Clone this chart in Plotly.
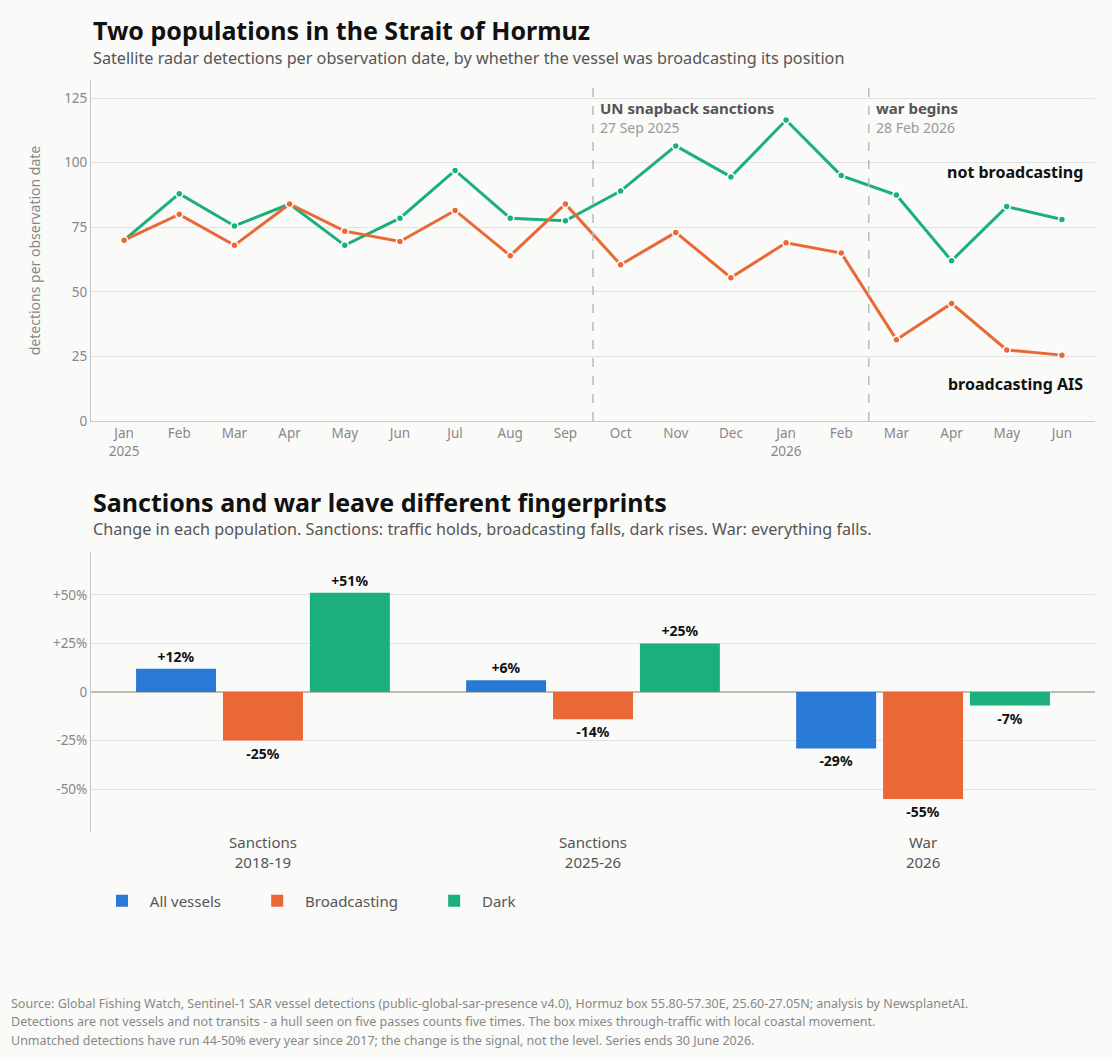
import plotly.graph_objects as go

W, H = 1112, 1060
FONT = "Noto Sans"
BG = "#FAFAF8"
NB = "\u00a0"

# ---- data: top chart ----
months = ["Jan<br>2025", "Feb", "Mar", "Apr", "May", "Jun", "Jul", "Aug", "Sep",
          "Oct", "Nov", "Dec", "Jan<br>2026", "Feb", "Mar", "Apr", "May", "Jun"]
not_broadcasting = [70, 88, 75.5, 84, 68, 78.5, 97, 78.5, 77.5,
                    89, 106.5, 94.5, 116.5, 95, 87.5, 62, 83, 78]
broadcasting = [70, 80, 68, 84, 73.5, 69.5, 81.5, 64, 84,
                60.5, 73, 55.5, 69, 65, 31.5, 45.5, 27.5, 25.5]
event_pos = [8.5, 13.5]
event_names = ["UN snapback sanctions", "war begins"]
event_dates = ["27 Sep 2025", "28 Feb 2026"]

# ---- data: bottom chart ----
periods = ["Sanctions<br>2018-19", "Sanctions<br>2025-26", "War<br>2026"]
all_vessels = [12, 6, -29]
broadcasting_chg = [-25, -14, -55]
dark_chg = [51, 25, -7]

footer_lines = [
    "Source: Global Fishing Watch, Sentinel-1 SAR vessel detections (public-global-sar-presence v4.0), Hormuz box 55.80-57.30E, 25.60-27.05N; analysis by NewsplanetAI.",
    "Detections are not vessels and not transits - a hull seen on five passes counts five times. The box mixes through-traffic with local coastal movement.",
    "Unmatched detections have run 44-50% every year since 2017; the change is the signal, not the level. Series ends 30 June 2026.",
]

C_BLUE = "#2979D6"
C_ORANGE = "#EA6835"
C_GREEN = "#1BAF7B"


def px_x(p):
    return p / W


def px_y(p):
    return 1 - p / H


fig = go.Figure()
xi = list(range(len(months)))

fig.add_trace(go.Scatter(
    x=xi, y=not_broadcasting, mode="lines+markers", xaxis="x", yaxis="y",
    line=dict(color=C_GREEN, width=3),
    marker=dict(size=7, color=C_GREEN, line=dict(color="white", width=1.5)),
    showlegend=False, hoverinfo="skip"))
fig.add_trace(go.Scatter(
    x=xi, y=broadcasting, mode="lines+markers", xaxis="x", yaxis="y",
    line=dict(color=C_ORANGE, width=3),
    marker=dict(size=7, color=C_ORANGE, line=dict(color="white", width=1.5)),
    showlegend=False, hoverinfo="skip"))

legend_names = [NB * 2 + "All vessels" + NB * 8,
                NB * 2 + "Broadcasting" + NB * 8,
                NB * 2 + "Dark"]
for name, vals, col in [(legend_names[0], all_vessels, C_BLUE),
                        (legend_names[1], broadcasting_chg, C_ORANGE),
                        (legend_names[2], dark_chg, C_GREEN)]:
    fig.add_trace(go.Bar(
        x=periods, y=vals, name=name, xaxis="x2", yaxis="y2",
        marker=dict(color=col, line=dict(width=0)),
        text=[f"<b>{v:+d}%</b>" for v in vals], textposition="outside",
        textfont=dict(family=FONT, size=14, color="#111"),
        cliponaxis=False, hoverinfo="skip"))

shapes = []
for xp in event_pos:
    shapes.append(dict(type="line", xref="x", yref="y domain", x0=xp, x1=xp, y0=0, y1=1,
                       line=dict(color="#BBBBBB", width=1.5, dash="dash")))

annotations = [
    dict(text="<b>Two populations in the Strait of Hormuz</b>", x=px_x(91), y=px_y(30),
         xref="paper", yref="paper", xanchor="left", yanchor="middle", showarrow=False,
         font=dict(family=FONT, size=25, color="#111")),
    dict(text="Satellite radar detections per observation date, by whether the vessel was broadcasting its position",
         x=px_x(91), y=px_y(58), xref="paper", yref="paper", xanchor="left", yanchor="middle",
         showarrow=False, font=dict(family=FONT, size=16.2, color="#555")),
    dict(text="<b>Sanctions and war leave different fingerprints</b>", x=px_x(91), y=px_y(502),
         xref="paper", yref="paper", xanchor="left", yanchor="middle", showarrow=False,
         font=dict(family=FONT, size=25, color="#111")),
    dict(text="Change in each population. Sanctions: traffic holds, broadcasting falls, dark rises. War: everything falls.",
         x=px_x(91), y=px_y(529), xref="paper", yref="paper", xanchor="left", yanchor="middle",
         showarrow=False, font=dict(family=FONT, size=16.2, color="#555")),
    dict(text="<b>not broadcasting</b>", x=px_x(1085), y=px_y(172), xref="paper", yref="paper",
         xanchor="right", yanchor="middle", showarrow=False,
         font=dict(family=FONT, size=16, color="#111")),
    dict(text="<b>broadcasting AIS</b>", x=px_x(1085), y=px_y(384), xref="paper", yref="paper",
         xanchor="right", yanchor="middle", showarrow=False,
         font=dict(family=FONT, size=16, color="#111")),
]
for i, line in enumerate(footer_lines):
    annotations.append(dict(text=line, x=px_x(9), y=px_y(1003 + 18.5 * i), xref="paper", yref="paper",
                            xanchor="left", yanchor="middle", showarrow=False,
                            font=dict(family=FONT, size=12.5, color="#888")))
for xp, nm, dt in zip(event_pos, event_names, event_dates):
    annotations.append(dict(text=f"<b>{nm}</b>", x=xp, y=px_y(108), xref="x", yref="paper",
                            xanchor="left", yanchor="middle", xshift=5, showarrow=False,
                            font=dict(family=FONT, size=15, color="#555")))
    annotations.append(dict(text=dt, x=xp, y=px_y(127.5), xref="x", yref="paper",
                            xanchor="left", yanchor="middle", xshift=5, showarrow=False,
                            font=dict(family=FONT, size=14, color="#999")))

fig.update_layout(
    width=W, height=H, margin=dict(l=0, r=0, t=0, b=0, autoexpand=False),
    paper_bgcolor=BG, plot_bgcolor=BG,
    font=dict(family=FONT, color="#555"),
    barmode="group", bargap=0.21, bargroupgap=0.08,
    showlegend=True,
    legend=dict(orientation="h", x=px_x(102), y=px_y(901), xanchor="left", yanchor="middle",
                font=dict(family=FONT, size=15, color="#555"), bgcolor="rgba(0,0,0,0)",
                itemwidth=30),
    xaxis=dict(domain=[px_x(91), px_x(1095)], anchor="y", range=[-0.6, 17.6],
               tickmode="array", tickvals=xi, ticktext=months, automargin=False,
               tickfont=dict(family=FONT, size=13.5, color="#888"),
               showgrid=False, zeroline=False, showline=True, linecolor="#C8C8C8", linewidth=1,
               ticks=""),
    yaxis=dict(domain=[px_y(421), px_y(80)], anchor="x", range=[0, 132], automargin=False,
               tickvals=[0, 25, 50, 75, 100, 125],
               tickfont=dict(family=FONT, size=13.5, color="#888"),
               showgrid=True, gridcolor="#E2E2E2", gridwidth=1, zeroline=False,
               showline=True, linecolor="#C8C8C8", linewidth=1, ticks="",
               title=dict(text="detections per observation date",
                          font=dict(family=FONT, size=14, color="#888"), standoff=20)),
    xaxis2=dict(domain=[px_x(91), px_x(1095)], anchor="y2", range=[-0.521, 2.521],
                automargin=False,
                tickfont=dict(family=FONT, size=15, color="#555"),
                showgrid=False, zeroline=False, showline=False, ticks=""),
    yaxis2=dict(domain=[px_y(832), px_y(552)], anchor="x2", range=[-72, 72], automargin=False,
                tickvals=[-50, -25, 0, 25, 50], ticktext=["-50%", "-25%", "0", "+25%", "+50%"],
                tickfont=dict(family=FONT, size=13.5, color="#888"),
                showgrid=True, gridcolor="#E2E2E2", gridwidth=1,
                zeroline=True, zerolinecolor="#BDBDB5", zerolinewidth=2,
                showline=True, linecolor="#C8C8C8", linewidth=1, ticks="",),
    shapes=shapes, annotations=annotations,
)

fig.write_html("out.html")
